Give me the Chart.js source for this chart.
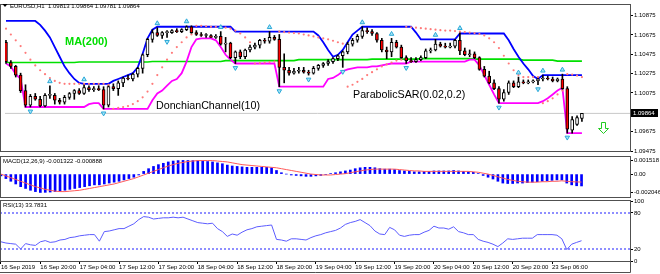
<!DOCTYPE html>
<html>
<head>
  <title>EURUSD H1</title>
  <script src="https://cdn.jsdelivr.net/npm/chart.js@4.4.0/dist/chart.umd.min.js"></script>
  <style>
    body { margin: 0; background: #fff; }
    canvas { position: absolute; left: 0; }
  </style>
</head>
<body>
  <canvas id="mainChart" width="660" height="156" style="top:0px"></canvas>
  <canvas id="macdChart" width="660" height="42" style="top:156px"></canvas>
  <canvas id="rsiChart" width="660" height="77" style="top:197px"></canvas>
  <script>
    // hourly bars, one entry per bar (bar 0 = 16 Sep 12:00)
    const xTickBars = [0, 8, 16, 24, 32, 40, 48, 56, 64, 72, 80, 88, 96, 104, 112];
    const xTickLabels = ['16 Sep 2019', '16 Sep 20:00', '17 Sep 04:00', '17 Sep 12:00', '17 Sep 20:00',
      '18 Sep 04:00', '18 Sep 12:00', '18 Sep 20:00', '19 Sep 04:00', '19 Sep 12:00', '19 Sep 20:00',
      '20 Sep 04:00', '20 Sep 12:00', '20 Sep 20:00', '23 Sep 06:00'];

    const openP = [
      1.1060, 1.1039, 1.1035, 1.1026, 1.1010, 1.0995, 1.1004, 1.1001, 1.0994, 1.1005,
      1.1005, 1.1000, 1.0998, 1.1003, 1.1007, 1.1010, 1.1007, 1.1013, 1.1011, 1.1012,
      1.1011, 1.0995, 1.1014, 1.1012, 1.1018, 1.1023, 1.1022, 1.1027, 1.1033, 1.1047,
      1.1063, 1.1070, 1.1067, 1.1070, 1.1070, 1.1072, 1.1071, 1.1073, 1.1076, 1.1070,
      1.1068, 1.1067, 1.1067, 1.1065, 1.1066, 1.1058, 1.1059, 1.1044, 1.1050, 1.1045,
      1.1052, 1.1055, 1.1057, 1.1062, 1.1061, 1.1065, 1.1063, 1.1034, 1.1031, 1.1028,
      1.1030, 1.1031, 1.1029, 1.1028, 1.1033, 1.1036, 1.1038, 1.1040, 1.1043, 1.1046,
      1.1050, 1.1058, 1.1062, 1.1066, 1.1072, 1.1071, 1.1069, 1.1062, 1.1052, 1.1050,
      1.1060, 1.1055, 1.1044, 1.1041, 1.1040, 1.1042, 1.1044, 1.1051, 1.1052, 1.1058,
      1.1056, 1.1055, 1.1056, 1.1062, 1.1051, 1.1047, 1.1048, 1.1044, 1.1032, 1.1025,
      1.1018, 1.1012, 1.1001, 1.1008, 1.1018, 1.1014, 1.1019, 1.1018, 1.1019, 1.1020,
      1.1022, 1.1023, 1.1022, 1.1020, 1.1022, 1.1012, 1.0969, 1.0975, 1.09813];
    const highP = [
      1.1062, 1.1041, 1.1036, 1.1028, 1.1016, 1.1006, 1.1007, 1.1004, 1.1007, 1.1015,
      1.1007, 1.1002, 1.1005, 1.1008, 1.1011, 1.1012, 1.1017, 1.1015, 1.1014, 1.1015,
      1.1014, 1.1016, 1.1017, 1.1020, 1.1024, 1.1026, 1.1028, 1.1034, 1.1048, 1.1064,
      1.1073, 1.1075, 1.1071, 1.1072, 1.1073, 1.1074, 1.1074, 1.1077, 1.1077, 1.1072,
      1.1070, 1.1069, 1.1068, 1.1068, 1.1071, 1.1065, 1.1060, 1.1051, 1.1052, 1.1053,
      1.1057, 1.1059, 1.1063, 1.1064, 1.1071, 1.1067, 1.1068, 1.1048, 1.1034, 1.1033,
      1.1034, 1.1034, 1.1031, 1.1035, 1.1037, 1.1039, 1.1042, 1.1044, 1.1047, 1.1051,
      1.1060, 1.1064, 1.1068, 1.1076, 1.1075, 1.1073, 1.1070, 1.1064, 1.1055, 1.1064,
      1.1062, 1.1057, 1.1046, 1.1044, 1.1044, 1.1046, 1.1053, 1.1054, 1.1063, 1.1060,
      1.1059, 1.1059, 1.1063, 1.1070, 1.1054, 1.1052, 1.1050, 1.1045, 1.1035, 1.1030,
      1.1021, 1.1014, 1.1011, 1.1020, 1.1020, 1.1024, 1.1021, 1.1021, 1.1021, 1.1024,
      1.1026, 1.1025, 1.1024, 1.1023, 1.1027, 1.1014, 1.0983, 1.0984, 1.09864];
    const lowP = [
      1.1038, 1.1033, 1.1024, 1.1008, 1.0993, 1.0993, 1.1000, 1.0993, 1.0993, 1.1002,
      1.0996, 1.0996, 1.0996, 1.1001, 1.1001, 1.1006, 1.1006, 1.1009, 1.1009, 1.1010,
      1.0991, 1.0993, 1.1010, 1.1005, 1.1014, 1.1021, 1.1020, 1.1024, 1.1028, 1.1045,
      1.1060, 1.1066, 1.1064, 1.1065, 1.1069, 1.1070, 1.1070, 1.1072, 1.1069, 1.1067,
      1.1066, 1.1065, 1.1065, 1.1064, 1.1057, 1.1050, 1.1043, 1.1038, 1.1043, 1.1043,
      1.1050, 1.1053, 1.1054, 1.1059, 1.1059, 1.1062, 1.1014, 1.1018, 1.1026, 1.1027,
      1.1028, 1.1028, 1.1026, 1.1027, 1.1031, 1.1034, 1.1036, 1.1038, 1.1041, 1.1034,
      1.1048, 1.1056, 1.1060, 1.1064, 1.1069, 1.1067, 1.1060, 1.1050, 1.1043, 1.1045,
      1.1054, 1.1043, 1.1038, 1.1039, 1.1039, 1.1041, 1.1043, 1.1049, 1.1051, 1.1055,
      1.1054, 1.1054, 1.1054, 1.1047, 1.1046, 1.1045, 1.1043, 1.1031, 1.1024, 1.1017,
      1.1011, 1.0997, 1.0999, 1.1006, 1.1013, 1.1013, 1.1017, 1.1017, 1.1018, 1.1016,
      1.1020, 1.1021, 1.1019, 1.1019, 1.1011, 1.0966, 1.0966, 1.0974, 1.09781];
    const closeP = [
      1.1040, 1.1035, 1.1026, 1.1010, 1.0995, 1.1004, 1.1001, 1.0994, 1.1005, 1.1005,
      1.1000, 1.0998, 1.1003, 1.1007, 1.1010, 1.1007, 1.1013, 1.1011, 1.1012, 1.1011,
      1.0995, 1.1014, 1.1012, 1.1018, 1.1023, 1.1022, 1.1027, 1.1033, 1.1047, 1.1063,
      1.1070, 1.1067, 1.1070, 1.1070, 1.1072, 1.1071, 1.1073, 1.1076, 1.1070, 1.1068,
      1.1067, 1.1067, 1.1065, 1.1066, 1.1058, 1.1059, 1.1044, 1.1050, 1.1045, 1.1052,
      1.1055, 1.1057, 1.1062, 1.1061, 1.1065, 1.1063, 1.1034, 1.1031, 1.1028, 1.1030,
      1.1031, 1.1029, 1.1028, 1.1033, 1.1036, 1.1038, 1.1040, 1.1043, 1.1046, 1.1050,
      1.1058, 1.1062, 1.1066, 1.1072, 1.1071, 1.1069, 1.1062, 1.1052, 1.1050, 1.1060,
      1.1055, 1.1044, 1.1041, 1.1040, 1.1042, 1.1044, 1.1051, 1.1052, 1.1058, 1.1056,
      1.1055, 1.1056, 1.1062, 1.1051, 1.1047, 1.1048, 1.1044, 1.1032, 1.1025, 1.1018,
      1.1012, 1.1001, 1.1008, 1.1018, 1.1014, 1.1019, 1.1018, 1.1019, 1.1020, 1.1022,
      1.1023, 1.1022, 1.1020, 1.1022, 1.1012, 1.0970, 1.0980, 1.0982, 1.09864];

    const maLine = [
      1.1039, 1.1039, 1.1039, 1.1039, 1.1039, 1.1039, 1.1039, 1.1039, 1.1039, 1.1039,
      1.1039, 1.1039, 1.1039, 1.1039, 1.1039, 1.10395, 1.10395, 1.10395, 1.10395, 1.10395,
      1.10395, 1.10395, 1.10395, 1.10395, 1.10395, 1.10395, 1.10395, 1.10395, 1.10395, 1.10395,
      1.1040, 1.1040, 1.1040, 1.1040, 1.1040, 1.1040, 1.1040, 1.1040, 1.1040, 1.1040,
      1.1040, 1.1040, 1.1040, 1.1040, 1.1040, 1.1041, 1.1041, 1.1041, 1.1041, 1.1041,
      1.1041, 1.1041, 1.1041, 1.1041, 1.1041, 1.1041, 1.1041, 1.1041, 1.1041, 1.1041,
      1.1042, 1.1042, 1.1042, 1.1042, 1.1042, 1.1042, 1.1042, 1.1042, 1.1042, 1.1042,
      1.1042, 1.1042, 1.1042, 1.1042, 1.1042, 1.10425, 1.10425, 1.10425, 1.10425, 1.10425,
      1.10425, 1.10425, 1.10425, 1.10425, 1.10425, 1.1043, 1.1043, 1.1043, 1.1043, 1.1043,
      1.1043, 1.1043, 1.1043, 1.1043, 1.1043, 1.1043, 1.10425, 1.10425, 1.10425, 1.10425,
      1.10425, 1.10425, 1.10425, 1.10425, 1.10425, 1.10425, 1.10415, 1.10415, 1.10415, 1.10415,
      1.10415, 1.10415, 1.10415, 1.10405, 1.10405, 1.10405, 1.10405, 1.10405, 1.10405];

    const donchianUpper = [
      1.1082, 1.1082, 1.1082, 1.1082, 1.1082, 1.1082, 1.1082, 1.1078, 1.1072, 1.1065,
      1.1055, 1.1045, 1.1035, 1.1028, 1.1022, 1.1018, 1.1017, 1.1017, 1.1017, 1.1017,
      1.1017, 1.1017, 1.1020, 1.1022, 1.1024, 1.1026, 1.1028, 1.1034, 1.1048, 1.1064,
      1.1073, 1.1076, 1.1076, 1.1076, 1.1076, 1.1076, 1.1076, 1.1076, 1.1076, 1.1076,
      1.1076, 1.1076, 1.1076, 1.1076, 1.1076, 1.1076, 1.1076, 1.1071, 1.1071, 1.1071,
      1.1071, 1.1071, 1.1071, 1.1071, 1.1071, 1.1071, 1.1071, 1.1071, 1.1071, 1.1071,
      1.1071, 1.1071, 1.1071, 1.1071, 1.1067, 1.1060, 1.1052, 1.1045, 1.1047, 1.1052,
      1.1060, 1.1068, 1.1072, 1.1076, 1.1076, 1.1076, 1.1076, 1.1076, 1.1076, 1.1076,
      1.1076, 1.1076, 1.1076, 1.1076, 1.1070, 1.1063, 1.1063, 1.1063, 1.1063, 1.1063,
      1.1063, 1.1063, 1.1063, 1.1069, 1.1069, 1.1069, 1.1069, 1.1069, 1.1069, 1.1069,
      1.1069, 1.1069, 1.1069, 1.1062, 1.1053, 1.1045, 1.1038, 1.1032, 1.1025, 1.1022,
      1.1026, 1.1026, 1.1026, 1.1026, 1.1026, 1.1026, 1.1026, 1.1026, 1.1026];
    const donchianLower = [
      1.1038, 1.1035, 1.1027, 1.1022, 1.0993, 1.0993, 1.0993, 1.0993, 1.0993, 1.0993,
      1.0993, 1.0993, 1.0993, 1.0993, 1.0993, 1.0993, 1.0993, 1.0996, 1.0997, 1.0997,
      1.0991, 1.0991, 1.0991, 1.0991, 1.0991, 1.0991, 1.0991, 1.0991, 1.0991, 1.0991,
      1.1000, 1.1007, 1.1010, 1.1015, 1.1020, 1.1022, 1.1028, 1.1040, 1.1055, 1.1063,
      1.1064, 1.1064, 1.1064, 1.1062, 1.1055, 1.1047, 1.1042, 1.1038, 1.1038, 1.1038,
      1.1038, 1.1038, 1.1038, 1.1038, 1.1038, 1.1038, 1.1014, 1.1014, 1.1014, 1.1014,
      1.1014, 1.1014, 1.1014, 1.1014, 1.1014, 1.1014, 1.1022, 1.1023, 1.1026, 1.1030,
      1.1032, 1.1033, 1.1034, 1.1034, 1.1034, 1.1035, 1.1035, 1.1036, 1.1037, 1.1038,
      1.1038, 1.1038, 1.1038, 1.1040, 1.1040, 1.1040, 1.1040, 1.1040, 1.1040, 1.1040,
      1.1040, 1.1040, 1.1040, 1.1040, 1.1040, 1.1042, 1.1042, 1.1036, 1.1026, 1.1016,
      1.1006, 1.0997, 1.0997, 1.0997, 1.0997, 1.0997, 1.0997, 1.0997, 1.0997, 1.0997,
      1.0999, 1.1002, 1.1006, 1.1010, 1.1013, 1.0966, 1.0966, 1.0966, 1.0966];

    const sarDots = [
      1.1074, 1.1068, 1.1062, 1.1056, 1.1049, 1.1042, 1.1036, 1.1031, 1.1027, 1.1023,
      1.1020, 1.1018, 1.1017, 1.1017, 1.1017, 1.1017, 1.1017, 1.1017, 1.1017, 1.1017,
      1.1017, 1.1016, 1.0991, 1.0992, 1.0993, 1.0994, 1.0996, 1.0999, 1.1003, 1.1009,
      1.1017, 1.1026, 1.1034, 1.1042, 1.1049, 1.1055, 1.1060, 1.1065, 1.1068, 1.1077,
      1.1077, 1.10765, 1.1076, 1.1076, 1.10755, 1.1075, 1.1074, 1.1072, 1.1069, 1.1065,
      1.1060, 1.1038, 1.10385, 1.1039, 1.10395, 1.1040, 1.1071, 1.10705, 1.1070, 1.10695,
      1.1069, 1.1068, 1.1067, 1.1066, 1.1065, 1.1064, 1.1063, 1.10615, 1.1060, 1.10585,
      1.1014, 1.1016, 1.1019, 1.1022, 1.1026, 1.1029, 1.1032, 1.1035, 1.1037, 1.1039,
      1.1041, 1.1042, 1.1076, 1.10755, 1.1075, 1.10745, 1.1074, 1.10735, 1.1073, 1.10725,
      1.1072, 1.1072, 1.10715, 1.1071, 1.10705, 1.1070, 1.10695, 1.10685, 1.1067, 1.1064,
      1.1060, 1.1054, 1.1046, 1.1038, 1.1031, 1.1026, 1.1024, 1.1024, 1.1024, 1.1024,
      1.0997, 1.0999, 1.1002, 1.1006, 1.1010, 1.1027, 1.10265, 1.10255, 1.1024];

    const upFractalBars = [9, 16, 31, 37, 44, 54, 73, 79, 88, 93, 105, 110, 114];
    const downFractalBars = [5, 20, 33, 47, 56, 62, 69, 82, 101, 109, 115];

    const macdHist = [
      -0.0002, -0.0005, -0.0008, -0.0011, -0.0014, -0.0016, -0.0018, -0.00195, -0.002046, -0.00203,
      -0.002, -0.00195, -0.0019, -0.0018, -0.0017, -0.0016, -0.0015, -0.0014, -0.0013, -0.0012,
      -0.0012, -0.0011, -0.001, -0.0009, -0.0008, -0.00065, -0.0005, -0.00035, -0.0001, 0.0003,
      0.0006, 0.00085, 0.00105, 0.0012, 0.00135, 0.00145, 0.0015, 0.001518, 0.00151, 0.0015,
      0.00148, 0.00145, 0.0014, 0.00135, 0.00125, 0.00115, 0.001, 0.0009, 0.00085, 0.0008,
      0.00075, 0.00075, 0.00075, 0.00075, 0.00075, 0.0007, 0.0004, 0.00015, 0, -0.0001,
      -0.00015, -0.0002, -0.00025, -0.00025, -0.0002, -0.00015, -0.00005, 0.00005, 0.00015, 0.00025,
      0.00035, 0.00045, 0.0006, 0.0007, 0.00075, 0.00075, 0.0007, 0.0006, 0.00055, 0.00055,
      0.0005, 0.0004, 0.00035, 0.0003, 0.00025, 0.00025, 0.0003, 0.0003, 0.00035, 0.00035,
      0.00035, 0.00035, 0.0004, 0.00035, 0.0003, 0.00025, 0.0002, 0.00005, -0.00015, -0.00035,
      -0.00055, -0.0008, -0.001, -0.00105, -0.00105, -0.001, -0.001, -0.00095, -0.0009, -0.00085,
      -0.0008, -0.00075, -0.0007, -0.00065, -0.00065, -0.001, -0.0012, -0.0013, -0.001322];
    const macdSignal = [
      0, -0.0002, -0.0004, -0.0006, -0.0008, -0.001, -0.0012, -0.0014, -0.00155, -0.0017,
      -0.0018, -0.0019, -0.00195, -0.00195, -0.0019, -0.00185, -0.0018, -0.0017, -0.0016, -0.0015,
      -0.0014, -0.0013, -0.0012, -0.0011, -0.00095, -0.0008, -0.00065, -0.0005, -0.0003, -0.0001,
      0.0001, 0.0003, 0.0005, 0.0007, 0.0009, 0.00105, 0.0012, 0.0013, 0.0014, 0.00145,
      0.0015, 0.0015, 0.0015, 0.0015, 0.00145, 0.0014, 0.00135, 0.00125, 0.00115, 0.00105,
      0.001, 0.00095, 0.0009, 0.00085, 0.0008, 0.00075, 0.0007, 0.0006, 0.0005, 0.0004,
      0.0003, 0.0002, 0.0001, 0, -0.00005, -0.0001, -0.0001, -0.0001, -0.00005, 0,
      0.00005, 0.00015, 0.00025, 0.00035, 0.00045, 0.0005, 0.00055, 0.00055, 0.00055, 0.00055,
      0.00055, 0.0005, 0.00045, 0.0004, 0.00035, 0.00035, 0.0003, 0.0003, 0.0003, 0.0003,
      0.0003, 0.0003, 0.0003, 0.0003, 0.0003, 0.0003, 0.00025, 0.0002, 0.0001, 0,
      -0.00015, -0.0003, -0.00045, -0.0006, -0.0007, -0.0008, -0.00085, -0.0009, -0.0009, -0.0009,
      -0.00085, -0.00085, -0.0008, -0.0008, -0.00075, -0.0008, -0.00085, -0.00087, -0.000888];

    const rsiLine = [
      32, 30, 29, 28, 20, 29, 27, 26, 32, 34,
      31, 32, 35, 36, 39, 40, 42, 43, 44, 44,
      33, 49, 50, 52, 54, 54, 58, 62, 69, 74,
      73, 70, 71, 72, 72, 73, 72, 73, 70, 67,
      64, 63, 62, 63, 54, 49, 41, 45, 43, 48,
      52, 54, 57, 58, 59, 60, 36, 35, 33, 37,
      37, 36, 35, 39, 42, 44, 47, 49, 51, 55,
      61, 64, 66, 69, 64, 59, 50, 45, 44, 56,
      52, 43, 41, 43, 44, 44, 48, 51, 58, 55,
      55, 53, 57, 49, 47, 44, 44, 36, 33, 31,
      28, 24, 30, 37, 36, 37, 38, 38, 38, 44,
      44, 44, 44, 43, 37, 19, 28, 31, 33.7831];
    const rsiLevels = [80, 20];

    const priceTicks = [1.10875, 1.10675, 1.10475, 1.10275, 1.10075, 1.09675, 1.09475];
    const macdTicks = [0.001518, 0, -0.002046];
    const macdTickLabels = ['0.001518', '0.00', '-0.002046'];
    const rsiTicks = [100, 80, 20, 0];

    Chart.defaults.font.family = '"Liberation Sans", Arial, sans-serif';
    Chart.defaults.font.size = 6;
    Chart.defaults.color = '#000';

    const lastBar = closeP.length - 1;
    const xMin = -0.2, xMax = 127.85;

    function points(values) {
      return values.map((v, i) => ({ x: i, y: v }));
    }

    function hiddenX() {
      return { type: 'linear', min: xMin, max: xMax, offset: false, display: false };
    }

    function rightAxis(min, max, ticks, label) {
      return {
        position: 'right', min: min, max: max,
        afterBuildTicks: s => { s.ticks = ticks.map(v => ({ value: v })); },
        afterFit: s => { s.width = 30; s.paddingTop = 0; s.paddingBottom = 0; },
        ticks: { autoSkip: false, padding: 1, callback: label },
        grid: { drawOnChartArea: false, tickLength: 3, tickColor: '#000' },
        border: { display: false }
      };
    }

    const baseOptions = {
      responsive: false,
      animation: false,
      events: [],
      plugins: { legend: { display: false }, tooltip: { enabled: false } }
    };

    const framePlugin = {
      id: 'frame',
      afterDraw(chart) {
        const a = chart.chartArea, ctx = chart.ctx;
        ctx.save();
        ctx.strokeStyle = '#505050';
        ctx.lineWidth = 1;
        ctx.strokeRect(0.5, a.top - 0.5, a.right, a.bottom - a.top + 1);
        ctx.restore();
      }
    };

    const mainText = {
      id: 'mainText',
      afterDraw(chart) {
        const ctx = chart.ctx, a = chart.chartArea;
        ctx.save();
        ctx.fillStyle = '#000';
        ctx.beginPath();
        ctx.moveTo(2.5, 4); ctx.lineTo(7.5, 4); ctx.lineTo(5, 7);
        ctx.fill();
        ctx.textBaseline = 'middle';
        ctx.font = '6px "Liberation Sans"';
        const ohlc = [openP, highP, lowP, closeP].map(s => s[lastBar].toFixed(5)).join(' ');
        ctx.fillText('EURUSD,H1  ' + ohlc, 10, 6);

        ctx.font = 'bold 11px "Liberation Sans"';
        ctx.fillStyle = '#00dd00';
        ctx.fillText('MA(200)', 65, 42);
        ctx.font = '10.7px "Liberation Sans"';
        ctx.fillStyle = '#000';
        ctx.fillText('DonchianChannel(10)', 156, 106);
        ctx.fillText('ParabolicSAR(0.02,0.2)', 353, 95);

        // sell arrow
        ctx.beginPath();
        ctx.moveTo(601.5, 122.5); ctx.lineTo(605.5, 122.5); ctx.lineTo(605.5, 128.5);
        ctx.lineTo(608.5, 128.5); ctx.lineTo(603.5, 133.5); ctx.lineTo(598.5, 128.5);
        ctx.lineTo(601.5, 128.5); ctx.closePath();
        ctx.fillStyle = '#fff';
        ctx.fill();
        ctx.strokeStyle = '#22cc22';
        ctx.lineWidth = 1;
        ctx.stroke();

        // last price marker
        const py = Math.round(chart.scales.y.getPixelForValue(closeP[lastBar]));
        ctx.fillStyle = '#000';
        ctx.fillRect(a.right + 1, py - 4, 27, 8);
        ctx.fillStyle = '#fff';
        ctx.font = '6px "Liberation Sans"';
        ctx.fillText(closeP[lastBar].toFixed(5), a.right + 3, py);
        ctx.restore();
      }
    };

    function panelLabel(text) {
      return {
        id: 'panelLabel',
        afterDraw(chart) {
          const ctx = chart.ctx;
          ctx.save();
          ctx.fillStyle = '#000';
          ctx.font = '6px "Liberation Sans"';
          ctx.textBaseline = 'middle';
          ctx.fillText(text, 3, chart.chartArea.top + 4);
          ctx.restore();
        }
      };
    }

    const bodyColors = closeP.map((c, i) => c < openP[i] ? '#ff0000' : '#ffffff');

    new Chart(document.getElementById('mainChart'), {
      type: 'bar',
      data: {
        datasets: [
          { type: 'line', showLine: false, data: upFractalBars.map(i => ({ x: i, y: highP[i] + 0.00045 })),
            pointStyle: 'triangle', pointRadius: 2.6, backgroundColor: '#a8e6f6', borderColor: '#2aa8d8', borderWidth: 1 },
          { type: 'line', showLine: false, data: downFractalBars.map(i => ({ x: i, y: lowP[i] - 0.00045 })),
            pointStyle: 'triangle', pointRotation: 180, pointRadius: 2.6, backgroundColor: '#a8e6f6', borderColor: '#2aa8d8', borderWidth: 1 },
          { type: 'line', showLine: false, data: points(sarDots),
            pointRadius: 1.1, backgroundColor: '#ff7a7a', borderWidth: 0 },
          { type: 'bar', data: openP.map((o, i) => ({ x: i, y: [o, closeP[i]] })),
            backgroundColor: bodyColors, borderColor: '#000', borderWidth: 1, borderSkipped: false,
            barThickness: 3, minBarLength: 1, grouped: false },
          { type: 'bar', data: lowP.map((l, i) => ({ x: i, y: [l, highP[i]] })),
            backgroundColor: '#000', barThickness: 1, grouped: false },
          { type: 'line', data: points(donchianUpper), borderColor: '#0000ff', borderWidth: 1.8, pointRadius: 0 },
          { type: 'line', data: points(donchianLower), borderColor: '#ff00ff', borderWidth: 1.8, pointRadius: 0 },
          { type: 'line', data: points(maLine), borderColor: '#00e000', borderWidth: 1.6, pointRadius: 0 },
          { type: 'line', data: [{ x: xMin, y: closeP[lastBar] }, { x: xMax, y: closeP[lastBar] }],
            borderColor: '#c8c8c8', borderWidth: 1, pointRadius: 0 }
        ]
      },
      options: Object.assign({}, baseOptions, {
        layout: { padding: { top: 1, bottom: 4, left: 0, right: 0 } },
        scales: { x: hiddenX(), y: rightAxis(1.09475, 1.10985, priceTicks, v => v.toFixed(5)) }
      }),
      plugins: [framePlugin, mainText]
    });

    new Chart(document.getElementById('macdChart'), {
      type: 'bar',
      data: {
        datasets: [
          { type: 'line', data: points(macdSignal), borderColor: '#ff5a5a', borderWidth: 1, pointRadius: 0 },
          { type: 'bar', data: points(macdHist), backgroundColor: '#0000ff', barThickness: 2, grouped: false }
        ]
      },
      options: Object.assign({}, baseOptions, {
        layout: { padding: { top: 1, bottom: 1, left: 0, right: 0 } },
        scales: { x: hiddenX(), y: rightAxis(-0.00255, 0.0019, macdTicks, (v, i) => macdTickLabels[i]) }
      }),
      plugins: [framePlugin, panelLabel('MACD(12,26,9) ' + macdHist[lastBar].toFixed(6) + ' ' + macdSignal[lastBar].toFixed(6))]
    });

    const rsiX = {
      type: 'linear', min: xMin, max: xMax, offset: false, position: 'bottom',
      afterBuildTicks: s => { s.ticks = xTickBars.map(v => ({ value: v })); },
      afterFit: s => { s.height = 13; s.paddingLeft = 0; s.paddingRight = 0; },
      ticks: { autoSkip: false, maxRotation: 0, minRotation: 0, align: 'start', padding: 0,
        callback: (v, i) => xTickLabels[i] },
      grid: { drawOnChartArea: false, tickLength: 3, tickColor: '#000' },
      border: { display: false }
    };

    // outer frame under the time axis
    const rsiBottom = {
      id: 'rsiBottom',
      afterDraw(chart) {
        const ctx = chart.ctx, a = chart.chartArea;
        ctx.save();
        ctx.strokeStyle = '#505050';
        ctx.beginPath();
        ctx.moveTo(a.right + 0.5, a.bottom);
        ctx.lineTo(a.right + 0.5, chart.height - 1.5);
        ctx.lineTo(0, chart.height - 1.5);
        ctx.stroke();
        ctx.restore();
      }
    };

    new Chart(document.getElementById('rsiChart'), {
      type: 'line',
      data: {
        datasets: [
          { data: points(rsiLine), borderColor: '#5c5cff', borderWidth: 1, pointRadius: 0 },
          ...rsiLevels.map(v => ({ data: [{ x: xMin, y: v }, { x: xMax, y: v }],
            borderColor: '#6a6aff', borderWidth: 1.5, borderDash: [2, 2], pointRadius: 0 }))
        ]
      },
      options: Object.assign({}, baseOptions, {
        layout: { padding: { top: 4, bottom: 0, left: 0, right: 0 } },
        scales: { x: rsiX, y: rightAxis(0, 100, rsiTicks, v => String(v)) }
      }),
      plugins: [framePlugin, rsiBottom, panelLabel('RSI(13) ' + rsiLine[lastBar].toFixed(4))]
    });
  </script>
</body>
</html>
